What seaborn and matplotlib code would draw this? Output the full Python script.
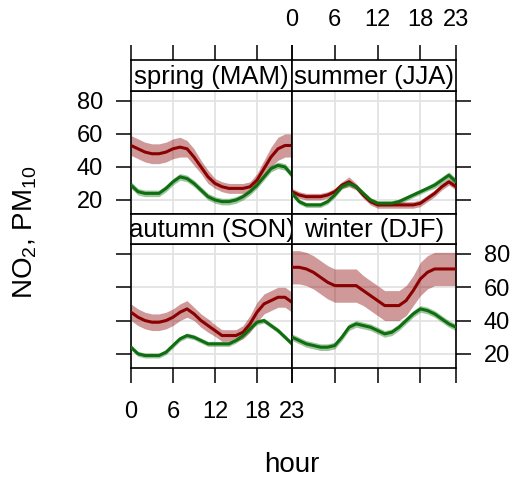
import numpy as np
import pandas as pd
import matplotlib
matplotlib.use("Agg")
import matplotlib.pyplot as plt
import seaborn as sns

# hourly means per season
hours = list(range(24))
seasons = ["spring (MAM)", "summer (JJA)", "autumn (SON)", "winter (DJF)"]
pollutants = ["NO2", "PM10"]

spring_no2 = [53, 51, 49, 48, 48, 49, 51, 52, 51, 46, 40, 34, 30, 28, 27, 27, 27, 28, 32, 39, 46, 51, 53, 53]
spring_pm10 = [29, 25, 24, 24, 24, 27, 31, 34, 33, 30, 26, 22, 20, 19, 19, 20, 22, 25, 29, 34, 39, 41, 40, 35]
summer_no2 = [25, 23, 22, 22, 22, 23, 25, 29, 31, 28, 23, 19, 17, 17, 17, 17, 17, 17, 18, 21, 24, 28, 31, 28]
summer_pm10 = [24, 19, 17, 17, 17, 19, 23, 28, 30, 28, 24, 20, 18, 18, 18, 19, 21, 23, 25, 27, 29, 32, 35, 31]
autumn_no2 = [45, 42, 40, 39, 39, 40, 42, 45, 47, 44, 40, 37, 34, 31, 31, 31, 33, 38, 45, 50, 52, 54, 54, 51]
autumn_pm10 = [24, 20, 19, 19, 19, 21, 25, 29, 31, 30, 28, 26, 26, 26, 26, 28, 31, 35, 39, 40, 37, 34, 30, 26]
winter_no2 = [72, 72, 71, 69, 66, 63, 61, 61, 61, 61, 58, 55, 52, 49, 49, 49, 52, 58, 65, 69, 71, 71, 71, 71]
winter_pm10 = [30, 28, 26, 25, 24, 24, 25, 30, 36, 38, 37, 36, 34, 32, 33, 36, 40, 44, 47, 46, 44, 41, 38, 36]

# half width of the confidence band
spring_no2_ci = [6, 6, 6, 6, 6, 6, 6, 6, 5, 5, 4, 4, 3, 3, 3, 3, 3, 3, 4, 5, 6, 7, 7, 7]
spring_pm10_ci = [2, 2, 2, 2, 2, 2, 2, 2, 2, 2, 2, 2, 2, 2, 2, 2, 2, 2, 2, 2, 2, 2, 2, 2]
summer_no2_ci = [2, 2, 2, 2, 2, 2, 2, 2, 3, 2, 2, 2, 2, 2, 2, 2, 2, 2, 2, 2, 2, 2, 2, 2]
summer_pm10_ci = [1.5, 1.5, 1.5, 1.5, 1.5, 1.5, 1.5, 1.5, 1.5, 1.5, 1.5, 1.5, 1.5, 1.5, 1.5, 1.5, 1.5, 1.5, 1.5, 1.5, 2, 2, 2, 2]
autumn_no2_ci = [5, 5, 5, 5, 5, 5, 5, 5, 5, 4, 4, 4, 3.5, 3.5, 3.5, 3.5, 4, 5, 6, 6, 6, 6, 6, 6]
autumn_pm10_ci = [1.5, 1.5, 1.5, 1.5, 1.5, 1.5, 1.5, 1.5, 1.5, 1.5, 1.5, 1.5, 1.5, 1.5, 1.5, 1.5, 1.5, 1.5, 1.5, 1.5, 1.5, 1.5, 1.5, 1.5]
winter_no2_ci = [10, 10, 10, 10, 10, 10, 10, 10, 10, 10, 9, 9, 9, 9, 9, 9, 9, 9, 10, 10, 10, 10, 10, 10]
winter_pm10_ci = [2, 2, 2, 2, 2, 2, 2, 2, 2, 2, 2, 2, 2, 2, 2, 2, 2, 2, 2, 2, 2, 2, 2, 2]

values = {
    ("spring (MAM)", "NO2"): (spring_no2, spring_no2_ci),
    ("spring (MAM)", "PM10"): (spring_pm10, spring_pm10_ci),
    ("summer (JJA)", "NO2"): (summer_no2, summer_no2_ci),
    ("summer (JJA)", "PM10"): (summer_pm10, summer_pm10_ci),
    ("autumn (SON)", "NO2"): (autumn_no2, autumn_no2_ci),
    ("autumn (SON)", "PM10"): (autumn_pm10, autumn_pm10_ci),
    ("winter (DJF)", "NO2"): (winter_no2, winter_no2_ci),
    ("winter (DJF)", "PM10"): (winter_pm10, winter_pm10_ci),
}

rows = []
for (season, pol), (v, ci) in values.items():
    for h, val, c in zip(hours, v, ci):
        rows.append({"season": season, "pollutant": pol, "hour": h,
                     "value": val, "lower": val - c, "upper": val + c})
df = pd.DataFrame(rows)

sns.set_style("white")
plt.rcParams["font.family"] = ["Liberation Sans", "DejaVu Sans"]
plt.rcParams["mathtext.fontset"] = "custom"
plt.rcParams["mathtext.rm"] = "Liberation Sans"
plt.rcParams["mathtext.default"] = "regular"
plt.rcParams["text.color"] = "black"
plt.rcParams["xtick.color"] = "black"
plt.rcParams["ytick.color"] = "black"

cols = {"NO2": "#8b0000", "PM10": "#0f6e0f"}

W, H = 516, 480
fig = plt.figure(figsize=(W / 100, H / 100), dpi=100)


def rect(x0, x1, y0, y1):
    return [x0 / W, 1 - y1 / H, (x1 - x0) / W, (y1 - y0) / H]


xcols = [(131, 292), (292, 456)]
rowpos = [((60, 91), (91, 214)), ((214, 244), (244, 368))]
xticks = [0, 6, 12, 18, 23]
yticks = [20, 40, 60, 80]
fs = 17
tick_kw = dict(direction="out", length=11, width=1.1, labelsize=fs,
               color="black", labelcolor="black")

for i, season in enumerate(seasons):
    r, c = divmod(i, 2)
    (sy0, sy1), (py0, py1) = rowpos[r]
    x0, x1 = xcols[c]

    ax = fig.add_axes(rect(x0, x1, py0, py1))
    sub = df[df["season"] == season]
    for pol in pollutants:
        g = sub[sub["pollutant"] == pol]
        ax.fill_between(g["hour"], g["lower"], g["upper"], color=cols[pol],
                        alpha=0.4, lw=0, zorder=2)
    sns.lineplot(data=sub, x="hour", y="value", hue="pollutant", palette=cols,
                 lw=2.2, legend=False, ax=ax, zorder=3)
    ax.set_xlim(0, 23)
    ax.set_ylim(11.5, 86)
    ax.set_xticks(xticks)
    ax.set_yticks(yticks)
    ax.grid(True, color="#e3e3e3", lw=1.3)
    ax.set_axisbelow(True)
    ax.set_xlabel("")
    ax.set_ylabel("")
    for s in ax.spines.values():
        s.set_linewidth(1.2)
        s.set_color("black")
    ax.tick_params(**tick_kw)
    ax.tick_params(axis="x", bottom=(r == 1), labelbottom=(r == 1 and c == 0), pad=13)
    ax.tick_params(axis="y", left=(c == 0), labelleft=(r == 0 and c == 0),
                   right=(c == 1), labelright=(r == 1 and c == 1), pad=9)

    sax = fig.add_axes(rect(x0, x1, sy0, sy1))
    sax.set_xlim(0, 23)
    sax.set_xticks(xticks)
    sax.set_yticks([])
    for s in sax.spines.values():
        s.set_linewidth(1.2)
        s.set_color("black")
    sax.tick_params(**tick_kw)
    sax.tick_params(axis="x", bottom=False, labelbottom=False,
                    top=(r == 0), labeltop=(r == 0 and c == 1), pad=10)
    sax.text(0.5, 0.45, season, transform=sax.transAxes, ha="center",
             va="center", fontsize=18.5, color="black")

fig.text(25 / W, 1 - 232 / H, "NO$_2$, PM$_{10}$", rotation=90,
         ha="center", va="center", fontsize=20)
fig.text(292 / W, 1 - 465 / H, "hour", ha="center", va="center", fontsize=20)

fig.savefig("out.png", dpi=100)
